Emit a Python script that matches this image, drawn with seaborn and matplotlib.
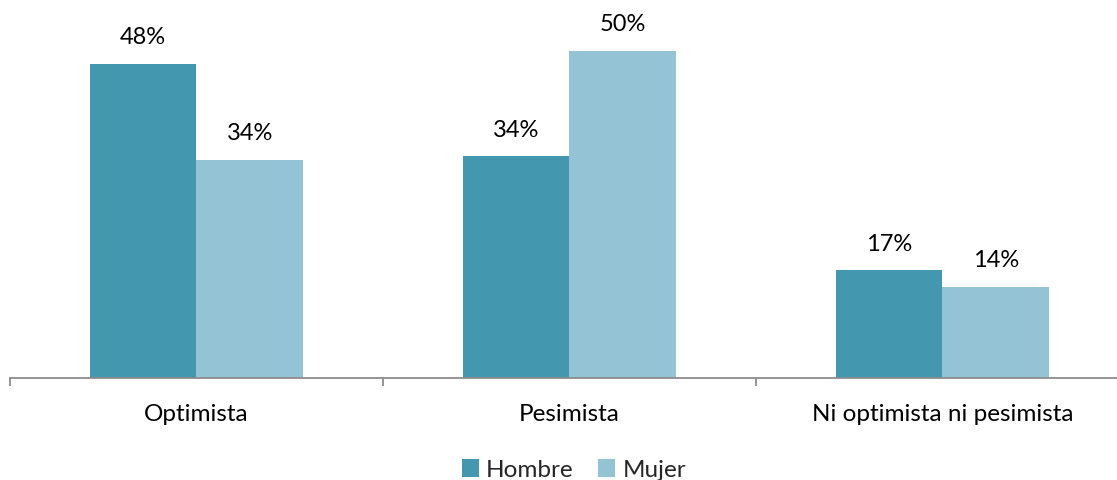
import matplotlib
matplotlib.use("Agg")
import matplotlib.pyplot as plt
import seaborn as sns
import pandas as pd
from matplotlib.patches import Patch

categories = ["Optimista", "Pesimista", "Ni optimista ni pesimista"]
series = ["Hombre", "Mujer"]
hombre = [48.0, 33.9, 16.4]
mujer = [33.3, 50.0, 13.9]
hombre_labels = ["48%", "34%", "17%"]
mujer_labels = ["34%", "50%", "14%"]
colors = ["#4398B0", "#93C3D4"]

sns.set_theme(style="white")
plt.rcParams['font.family'] = ['Lato', 'DejaVu Sans']

df = pd.DataFrame({
    "cat": categories * 2,
    "serie": [series[0]] * 3 + [series[1]] * 3,
    "val": hombre + mujer,
})

W, H = 1117, 480
fig = plt.figure(figsize=(W / 100, H / 100), dpi=100)
ax_left = 10 / W
ax_w = 1119 / W
ax_bottom = (H - 377.5) / H
ymax = 55
ax_h = ymax * 6.54 / H
ax = fig.add_axes([ax_left, ax_bottom, ax_w, ax_h])

sns.barplot(data=df, x="cat", y="val", hue="serie", order=categories,
            hue_order=series, palette=colors, saturation=1, width=0.572,
            ax=ax, legend=False, linewidth=0, errorbar=None)

ax.set_xlim(-0.5, 2.5)
ax.set_ylim(0, ymax)
for s in ["top", "right", "left"]:
    ax.spines[s].set_visible(False)
ax.spines["bottom"].set_color("#8C8C8C")
ax.spines["bottom"].set_linewidth(1.3)
ax.set_yticks([])
ax.set_xlabel("")
ax.set_ylabel("")

ax.set_xticks([-0.5, 0.5, 1.5, 2.5])
ax.set_xticklabels([])
ax.tick_params(axis="x", which="major", direction="out", length=6,
               width=1.3, color="#8C8C8C", bottom=True)
ax.set_xticks([0, 1, 2], minor=True)
ax.set_xticklabels(categories, minor=True, fontsize=17.5, color="#000000")
ax.tick_params(axis="x", which="minor", length=0, pad=19)

labels_all = [hombre_labels, mujer_labels]
for container, labs in zip(ax.containers, labels_all):
    ax.bar_label(container, labels=labs, padding=11, fontsize=17, color="#000000")

handles = [Patch(facecolor=c, edgecolor="none") for c in colors]
fig.legend(handles, series, loc="center", bbox_to_anchor=(574 / W, 1 - 470 / H),
           ncol=2, frameon=False, fontsize=17.5, handlelength=0.7, handleheight=0.7,
           handletextpad=0.3, columnspacing=1.0)

fig.savefig("out.png", dpi=100)
